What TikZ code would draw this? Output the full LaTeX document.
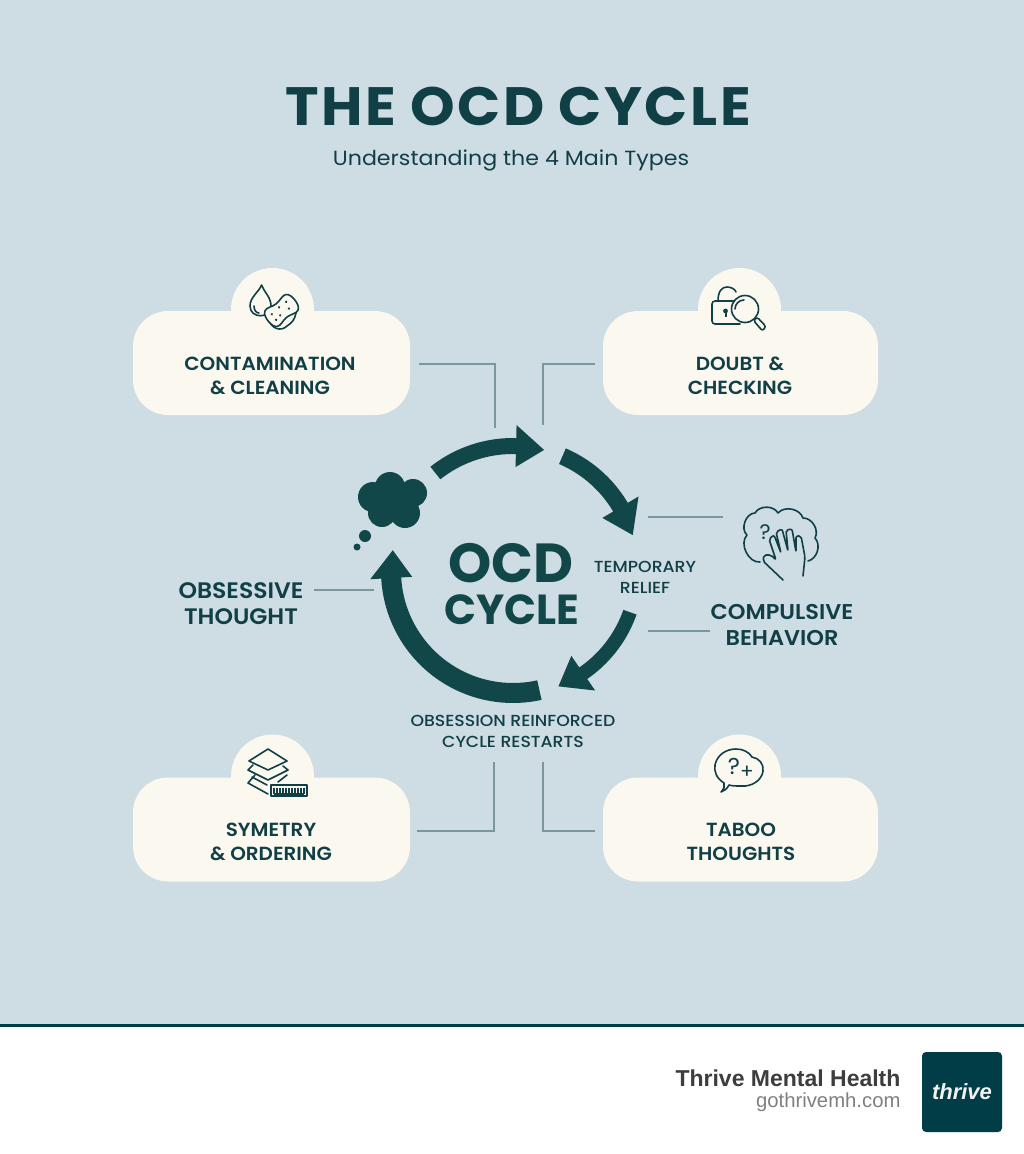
\documentclass[tikz,border=0pt]{standalone}
\usepackage{fontspec}
\setmainfont{Poppins}
\newfontfamily\footfont{Liberation Sans}
\newfontfamily\semifont{Poppins SemiBold}[FakeStretch=1.05]
\newfontfamily\medfont{Poppins Medium}[FakeStretch=1.08]
\definecolor{bgblue}{HTML}{CEDCE3}
\definecolor{cardcream}{HTML}{FBF8F0}
\definecolor{tealdark}{HTML}{113F46}
\definecolor{arrowteal}{HTML}{124749}
\definecolor{linegray}{HTML}{7A969E}
\definecolor{logoteal}{HTML}{013D47}
\tikzset{
    cardbox/.style={fill=cardcream, rounded corners=35pt, minimum width=277pt, minimum height=104pt, inner sep=0pt},
    cardbump/.style={fill=cardcream, circle, minimum size=83pt, inner sep=0pt},
    cardlabel/.style={text=tealdark, align=center, font=\semifont\fontsize{19}{24}\selectfont},
    sidelabel/.style={text=tealdark, align=center, font=\semifont\fontsize{22}{26}\selectfont},
    notelabel/.style={text=tealdark, align=center, font=\medfont\fontsize{16}{21}\selectfont},
    connector/.style={draw=linegray, line width=1.5pt},
    iconline/.style={draw=tealdark, line width=1.6pt, line cap=round, line join=round},
    iconmark/.style={text=tealdark, inner sep=0pt}
}
% one arc of the ring: start, head base, tip, half shaft, half head, radius
\newcommand{\cyclearrow}[6]{
    \fill[arrowteal] plot[domain=#1:#2, samples=40] ({513+(#6+#4)*cos(\x)},{571+(#6+#4)*sin(\x)})
        -- ({513+(#6+#5)*cos(#2)},{571+(#6+#5)*sin(#2)})
        -- ({513+#6*cos(#3)},{571+#6*sin(#3)})
        -- ({513+(#6-#5)*cos(#2)},{571+(#6-#5)*sin(#2)})
        -- plot[domain=#2:#1, samples=40] ({513+(#6-#4)*cos(\x)},{571+(#6-#4)*sin(\x)}) -- cycle;
}
\begin{document}
\begin{tikzpicture}[x=1pt, y=-1pt]

    \useasboundingbox (0,0) rectangle (1024,1154);

    % Background
    \fill[bgblue] (0,0) rectangle (1024,1026);
    \fill[white] (0,1026) rectangle (1024,1154);
    \fill[logoteal] (0,1024) rectangle (1024,1027);

    % Title
    \node (title) at (518,106) [text=tealdark, font=\fontsize{54}{60}\selectfont\bfseries\addfontfeature{FakeStretch=1.05,LetterSpace=4.6}] {THE OCD CYCLE};
    \node (subtitle) at (511,160) [text=tealdark, font=\fontsize{20.5}{24}\selectfont\addfontfeature{FakeStretch=1.08}] {Understanding the 4 Main Types};

    % Cards
    \node (contam_bump) at (272.5,309.5) [cardbump] {};
    \node (doubt_bump) at (739.5,309.5) [cardbump] {};
    \node (symmetry_bump) at (272.5,776) [cardbump] {};
    \node (taboo_bump) at (739.5,776) [cardbump] {};
    \node (contam_card) at (271.5,363) [cardbox] {};
    \node (doubt_card) at (740.5,363) [cardbox, minimum width=275pt] {};
    \node (symmetry_card) at (271.5,829.5) [cardbox] {};
    \node (taboo_card) at (740.5,829.5) [cardbox, minimum width=275pt] {};
    \node (contam_text) at (270,376) [cardlabel] {CONTAMINATION\\\& CLEANING};
    \node (doubt_text) at (740,376) [cardlabel] {DOUBT \&\\CHECKING};
    \node (symmetry_text) at (271,841.5) [cardlabel] {SYMETRY\\\& ORDERING};
    \node (taboo_text) at (741,841.5) [cardlabel] {TABOO\\THOUGHTS};

    % Ring
    \cyclearrow{231.6}{271.4}{284.4}{8}{21}{125}
    \cyclearrow{293.3}{329.3}{343.3}{8.5}{21}{125}
    \cyclearrow{19.4}{55.5}{68.5}{7}{21}{124}
    \cyclearrow{77.5}{176.7}{189.8}{10}{21}{122}

    % Ring labels
    \node (ocd) at (511,563) [text=arrowteal, font=\fontsize{55}{60}\selectfont\bfseries] {OCD};
    \node (cycle) at (512,610) [text=arrowteal, font=\fontsize{42}{44}\selectfont\bfseries] {CYCLE};
    \node (relief) at (645,577) [notelabel] {TEMPORARY\\RELIEF};
    \node (restart) at (513,731) [notelabel] {OBSESSION REINFORCED\\CYCLE RESTARTS};
    \node (obsessive) at (241,604) [sidelabel, font=\semifont\fontsize{22.4}{26}\selectfont] {OBSESSIVE\\THOUGHT};
    \node (compulsive) at (782,624.5) [sidelabel, font=\semifont\fontsize{21.4}{26}\selectfont] {COMPULSIVE\\BEHAVIOR};

    % Thought cloud
    \foreach \cx/\cy/\cr in {390/487/15, 373/497/15, 413/493/14, 382/513/14, 405/513/15, 395/503/19, 365/536/6, 357/547/3.5}
        \fill[arrowteal] (\cx,\cy) circle[radius=\cr];

    % Free ends of the connectors
    \coordinate (a1) at (419,364);
    \coordinate (a2) at (495,364);
    \coordinate (a3) at (495,428);
    \coordinate (b1) at (595,364);
    \coordinate (b2) at (543,364);
    \coordinate (b3) at (543,425);
    \coordinate (c1) at (648,517);
    \coordinate (c2) at (723,517);
    \coordinate (d1) at (648,631);
    \coordinate (d2) at (710,631);
    \coordinate (e1) at (314,590);
    \coordinate (e2) at (374,590);
    \coordinate (f1) at (417,831);
    \coordinate (f2) at (494,831);
    \coordinate (f3) at (494,762);
    \coordinate (g1) at (595,831);
    \coordinate (g2) at (543,831);
    \coordinate (g3) at (543,762);

    % Edges
    \draw[connector] (a1) -- (a2) -- (a3);
    \draw[connector] (b1) -- (b2) -- (b3);
    \draw[connector] (c1) -- (c2);
    \draw[connector] (d1) -- (d2);
    \draw[connector] (e1) -- (e2);
    \draw[connector] (f1) -- (f2) -- (f3);
    \draw[connector] (g1) -- (g2) -- (g3);

    % Drop and sponge
    \draw[iconline] (261.5,285) .. controls (264,292) and (271,297) .. (271,306) .. controls (271,319) and (250,319) .. (250,306) .. controls (250,297) and (259,292) .. (261.5,285);
    \draw[iconline] (254,306) .. controls (254,310) and (256,313) .. (259,313);
    \draw[iconline] (268,318) .. controls (271,329) and (281,332) .. (287,326) .. controls (292,323) and (295,319) .. (296,313);
    \begin{scope}[shift={(281.5,310.5)}, rotate=38]
        \draw[iconline, fill=cardcream] plot[smooth cycle, tension=0.7] coordinates {(-13,-10) (0,-8.5) (13,-10) (17,0) (13,10) (0,8.5) (-13,10) (-17,0)};
        \foreach \dx/\dy in {-10/-3, -4/3, 0/-4, 7/3, 9/-4, -10/4}
            \fill[tealdark] (\dx,\dy) circle[radius=1.3];
    \end{scope}

    % Lock and magnifier
    \draw[iconline, rounded corners=3pt] (740,324) -- (712,324) -- (712,301) -- (738,301);
    \draw[iconline] (718,301) .. controls (718,291) and (722,287) .. (727,287) .. controls (731,287) and (735,289) .. (736,292);
    \fill[tealdark] (725.5,311) circle[radius=2.4];
    \fill[tealdark] (724.5,312) rectangle (726.5,317);
    \draw[iconline, fill=cardcream] (745,309) circle[radius=13.5];
    \draw[iconline] (735,309) .. controls (735,304) and (739,300) .. (744,300);
    \draw[iconline, rounded corners=2.5pt] (753.5,320.5) -- (757,317) -- (766,326.5) -- (762.5,331) -- cycle;

    % Cloud and hand
    \draw[iconline] (760,562) to[bend left=70] (747,535) to[bend left=70] (755,513) to[bend left=60] (778,513) to[bend left=60] (803,518) to[bend left=60] (815,538) to[bend left=60] (808,561);
    \draw[iconline, fill=bgblue, rounded corners=2pt] (783,580) -- (763,561) -- (764,555) -- (771,555) -- (776,560) -- (769,539) -- (774,535) -- (781,553) -- (776,532) -- (782,529) -- (788,551) -- (786,530) -- (792,529) -- (796,552) -- (796,536) -- (801,536) -- (805,557) -- (803,576);
    \node (hand_mark) at (765,532) [iconmark, font=\fontsize{21}{24}\selectfont] {?};

    % Layers and ruler
    \draw[iconline] (249,761) -- (268,749) -- (287,761) -- (268,770) -- cycle;
    \draw[iconline] (253,765) -- (248,770) -- (268,780) -- (288,770) -- (283,766);
    \draw[iconline] (255,775) -- (248,783) -- (268,794);
    \draw[iconline] (252,777) -- (267,785);
    \draw[iconline] (287,775) -- (278,782);
    \draw[iconline, line width=1.3pt] (271,785) rectangle (307,796);
    \foreach \tx in {274,277,...,304}
        \draw[tealdark, line width=1.2pt] (\tx,787.5) -- (\tx,794);
    \draw[tealdark, line width=1.2pt] (274,794) -- (304,794);

    % Speech bubble
    \draw[iconline] (721,792) .. controls (724,789) and (725,786) .. (724,783) .. controls (716,778) and (714,771) .. (715,765) .. controls (717,755) and (726,749) .. (736,749) .. controls (743,749) and (749,752) .. (752,757) .. controls (759,758) and (764,764) .. (763,771) .. controls (762,780) and (752,787) .. (741,786) .. controls (736,786) and (732,786) .. (729,785) .. controls (727,789) and (724,791) .. (721,792) -- cycle;
    \node (bubble_mark) at (734,766) [iconmark, font=\fontsize{23}{26}\selectfont] {?};
    \node (bubble_plus) at (747,772) [iconmark, font=\fontsize{20}{24}\selectfont] {+};

    % Footer
    \node (brand) at (904,1078) [anchor=east, text=black!76, font=\footfont\fontsize{23}{26}\selectfont\bfseries] {Thrive Mental Health};
    \node (site) at (904,1102) [anchor=east, text=black!50, font=\footfont\fontsize{20.3}{22}\selectfont] {gothrivemh.com};
    \node (logo) at (962,1092) [fill=logoteal, rounded corners=4pt, minimum size=80pt, inner sep=0pt, text=white!95!black, font=\footfont\fontsize{22}{24}\selectfont\bfseries\itshape] {thrive};

\end{tikzpicture}
\end{document}
